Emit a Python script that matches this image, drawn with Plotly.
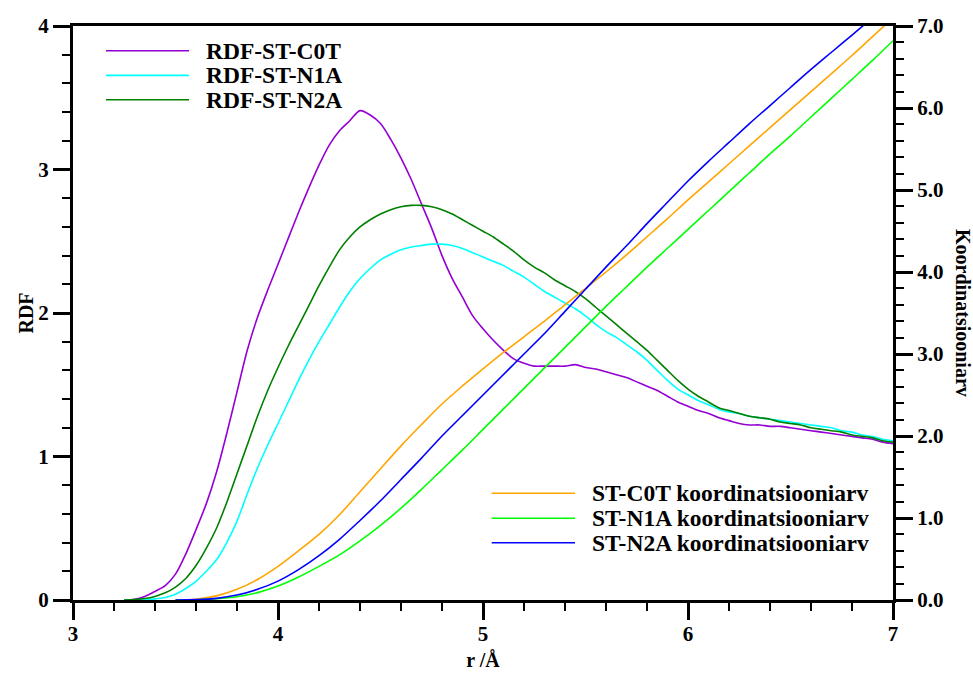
import plotly.graph_objects as go

# ---- radial distribution functions (sampled every 0.05 Å) ----
r_rdf = [round(3.25 + 0.05 * i, 2) for i in range(76)]

rdf_c0t = [0.0, 0.005, 0.025, 0.06, 0.10, 0.18, 0.32, 0.49, 0.67, 0.89,
           1.16, 1.45, 1.74, 1.97, 2.16, 2.34, 2.52, 2.70, 2.87, 3.03,
           3.17, 3.27, 3.34, 3.41, 3.38, 3.32, 3.21, 3.08, 2.93, 2.76,
           2.59, 2.40, 2.24, 2.11, 1.98, 1.89, 1.81, 1.74, 1.68, 1.65,
           1.63, 1.63, 1.63, 1.63, 1.64, 1.62, 1.61, 1.59, 1.57, 1.55,
           1.52, 1.49, 1.46, 1.42, 1.38, 1.35, 1.32, 1.30, 1.27, 1.25,
           1.23, 1.22, 1.22, 1.21, 1.21, 1.20, 1.19, 1.18, 1.17, 1.16,
           1.15, 1.14, 1.13, 1.12, 1.10, 1.09]

rdf_n1a = [0.0, 0.0, 0.003, 0.008, 0.018, 0.04, 0.08, 0.13, 0.20, 0.28,
           0.40, 0.55, 0.74, 0.92, 1.08, 1.23, 1.38, 1.53, 1.67, 1.80,
           1.92, 2.04, 2.15, 2.24, 2.31, 2.37, 2.41, 2.44, 2.46, 2.47,
           2.48, 2.48, 2.47, 2.45, 2.42, 2.39, 2.36, 2.33, 2.29, 2.25,
           2.20, 2.15, 2.11, 2.07, 2.03, 1.98, 1.92, 1.87, 1.83, 1.78,
           1.73, 1.67, 1.60, 1.53, 1.47, 1.43, 1.39, 1.36, 1.33, 1.31,
           1.30, 1.28, 1.27, 1.26, 1.25, 1.24, 1.23, 1.22, 1.21, 1.20,
           1.18, 1.17, 1.15, 1.14, 1.12, 1.11]

rdf_n2a = [0.0, 0.003, 0.01, 0.025, 0.05, 0.09, 0.15, 0.24, 0.36, 0.50,
           0.68, 0.88, 1.08, 1.28, 1.46, 1.62, 1.77, 1.91, 2.05, 2.19,
           2.32, 2.44, 2.53, 2.60, 2.65, 2.69, 2.72, 2.74, 2.75, 2.75,
           2.74, 2.72, 2.69, 2.65, 2.61, 2.57, 2.53, 2.48, 2.43, 2.37,
           2.32, 2.28, 2.23, 2.19, 2.15, 2.10, 2.04, 1.98, 1.92, 1.86,
           1.80, 1.74, 1.67, 1.60, 1.53, 1.47, 1.42, 1.38, 1.34, 1.32,
           1.30, 1.28, 1.27, 1.26, 1.24, 1.23, 1.22, 1.20, 1.19, 1.18,
           1.17, 1.15, 1.14, 1.13, 1.11, 1.10]

# ---- running coordination numbers (sampled every 0.1 Å) ----
r_cn = [round(3.5 + 0.1 * i, 1) for i in range(36)]

cn_c0t = [0.0, 0.01, 0.05, 0.13, 0.25, 0.41, 0.60, 0.80, 1.04, 1.32,
          1.60, 1.88, 2.14, 2.39, 2.61, 2.82, 3.02, 3.21, 3.40, 3.60,
          3.80, 4.00, 4.21, 4.43, 4.65, 4.88, 5.10, 5.32, 5.54, 5.76,
          5.98, 6.20, 6.42, 6.64, 6.87, 7.10]

cn_n1a = [0.0, 0.003, 0.015, 0.04, 0.09, 0.17, 0.28, 0.41, 0.55, 0.72,
          0.91, 1.12, 1.35, 1.59, 1.83, 2.08, 2.33, 2.58, 2.83, 3.08,
          3.33, 3.58, 3.82, 4.06, 4.29, 4.52, 4.75, 4.98, 5.21, 5.44,
          5.66, 5.89, 6.12, 6.35, 6.58, 6.82]

cn_n2a = [0.0, 0.005, 0.02, 0.06, 0.13, 0.23, 0.37, 0.54, 0.74, 0.97,
          1.21, 1.47, 1.73, 2.00, 2.25, 2.50, 2.75, 3.00, 3.25, 3.52,
          3.79, 4.06, 4.32, 4.59, 4.85, 5.11, 5.35, 5.58, 5.81, 6.03,
          6.25, 6.47, 6.68, 6.89, 7.10, 7.31]

rdf_names = ["RDF-ST-C0T", "RDF-ST-N1A", "RDF-ST-N2A"]
cn_names = ["ST-C0T koordinatsiooniarv", "ST-N1A koordinatsiooniarv",
            "ST-N2A koordinatsiooniarv"]
x_ticks = [3, 4, 5, 6, 7]
rdf_ticks = [0, 1, 2, 3, 4]
cn_ticks = [0, 1, 2, 3, 4, 5, 6, 7]

rdf_colors = ["#9400D3", "#00FFFF", "#008000"]
cn_colors = ["#FFA500", "#00FF00", "#0000FF"]

FONT = "Liberation Serif"
TITLE_FONT = dict(family=FONT, size=20, color="black", weight="bold")

fig = go.Figure()
for name, ys, col in zip(rdf_names, [rdf_c0t, rdf_n1a, rdf_n2a], rdf_colors):
    fig.add_trace(go.Scatter(x=r_rdf, y=ys, mode="lines", name=name,
                             line=dict(color=col, width=1.6, shape="spline",
                                       smoothing=0.8),
                             yaxis="y", showlegend=False))
for name, ys, col in zip(cn_names, [cn_c0t, cn_n1a, cn_n2a], cn_colors):
    fig.add_trace(go.Scatter(x=r_cn, y=ys, mode="lines", name=name,
                             line=dict(color=col, width=1.6, shape="spline",
                                       smoothing=0.8),
                             yaxis="y2", showlegend=False))

axis_style = dict(showline=True, linewidth=3, linecolor="black",
                  ticks="outside", ticklen=17, tickwidth=3, tickcolor="black",
                  showgrid=False, zeroline=False, automargin=False,
                  tickfont=dict(family=FONT, size=21, color="black", weight="bold"))
minor_style = dict(ticks="outside", ticklen=8, tickwidth=2, tickcolor="black",
                   dtick=0.2, showgrid=False)

fig.update_layout(
    width=973, height=673,
    margin=dict(l=73, r=80, t=26, b=73),
    paper_bgcolor="white", plot_bgcolor="white",
    xaxis=dict(range=[3, 7], tickmode="array", tickvals=x_ticks,
               ticktext=[f"<b>{v}</b>" for v in x_ticks], mirror=True,
               ticklabelstandoff=-4, minor=minor_style,
               title=dict(text="r /Å", standoff=8, font=TITLE_FONT),
               **axis_style),
    yaxis=dict(range=[0, 4], tickmode="array", tickvals=rdf_ticks,
               ticktext=[f"<b>{v}</b>" for v in rdf_ticks], minor=minor_style,
               title=dict(text="RDF", standoff=0, font=TITLE_FONT),
               **axis_style),
    yaxis2=dict(range=[0, 7], tickmode="array", tickvals=cn_ticks,
                ticktext=[f"<b>{v:.1f}</b>" for v in cn_ticks], overlaying="y",
                side="right", minor=minor_style, **axis_style),
)

# right-hand axis title, running top to bottom
fig.add_annotation(xref="paper", yref="paper", x=1.0, xshift=70, y=0.5,
                   text="Koordinatsiooniarv", textangle=90, showarrow=False,
                   xanchor="center", yanchor="middle", font=TITLE_FONT)

# legend blocks: sample line plus label, in plot-area fractions
def legend_block(names, colors, x0, x1, xt, ys, size):
    for name, col, yy in zip(names, colors, ys):
        fig.add_shape(type="line", xref="paper", yref="paper",
                      x0=x0, x1=x1, y0=yy, y1=yy,
                      line=dict(color=col, width=1.6))
        fig.add_annotation(xref="paper", yref="paper", x=xt, y=yy,
                           text=name, showarrow=False,
                           xanchor="left", yanchor="middle",
                           font=dict(family=FONT, size=size, color="black",
                                     weight="bold"))

legend_block(rdf_names, rdf_colors, 0.0402, 0.1415, 0.160,
             [0.957, 0.914, 0.8716], 23.5)
legend_block(cn_names, cn_colors, 0.5106, 0.6122, 0.630,
             [0.1859, 0.1423, 0.0998], 23.5)

fig.write_html("out.html")
